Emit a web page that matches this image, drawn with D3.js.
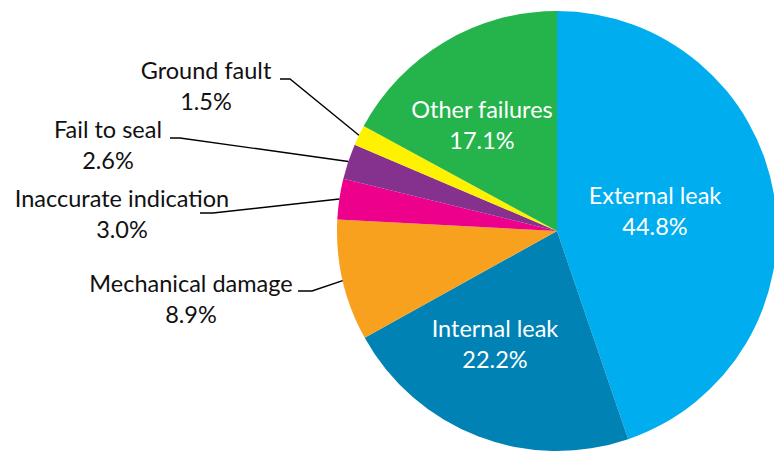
<!DOCTYPE html>
<html>
<head>
<meta charset="utf-8">
<script src="https://cdn.jsdelivr.net/npm/d3@7"></script>
<style>
  body { margin: 0; background: #fff; }
  svg text { font-family: Lato, "Open Sans", sans-serif; font-size: 23.5px; }
</style>
</head>
<body>
<svg width="774" height="453"></svg>
<script>
// data, clockwise from 12 o'clock
var categories = ['External leak', 'Internal leak', 'Mechanical damage', 'Inaccurate indication',
                  'Fail to seal', 'Ground fault', 'Other failures'];
var shares = [44.8, 22.2, 8.9, 3.0, 2.6, 1.5, 17.1];
var shareLabels = ['44.8%', '22.2%', '8.9%', '3.0%', '2.6%', '1.5%', '17.1%'];

var colors = ['#00aeef', '#0082b4', '#f7a11e', '#ec008c', '#85318e', '#fff200', '#25b34b'];

var cx = 557, cy = 231, radius = 220;

// label placement (inside labels white, outside ones with leader lines)
var layout = {
  'External leak':         { inside: true, x: 655, y: 204 },
  'Internal leak':         { inside: true, x: 495, y: 337 },
  'Other failures':        { inside: true, x: 482, y: 118 },
  'Mechanical damage':     { x: 191, y: 292, lead: [[298, 291], [312, 291]] },
  'Inaccurate indication': { x: 122, y: 207, lead: [[200, 213], [213, 213]] },
  'Fail to seal':          { x: 108, y: 138, lead: [[170, 138], [180, 138]] },
  'Ground fault':          { x: 206, y: 79,  lead: [[280, 79], [290, 79]] }
};
var lineGap = 31;

var svg = d3.select('svg');
var g = svg.append('g').attr('transform', 'translate(' + cx + ',' + cy + ')');

var pie = d3.pie().sort(null).value(function(d) { return d.value; });
var arc = d3.arc().innerRadius(0).outerRadius(radius);

var data = categories.map(function(c, i) {
  return { name: c, value: shares[i], label: shareLabels[i], color: colors[i] };
});
var arcs = pie(data);

g.selectAll('path.slice')
  .data(arcs)
  .enter().append('path')
    .attr('class', 'slice')
    .attr('d', arc)
    .attr('fill', function(d) { return d.data.color; });

// leader lines
arcs.forEach(function(d) {
  var l = layout[d.data.name];
  if (l.inside) return;
  var mid = (d.startAngle + d.endAngle) / 2;
  var end = [cx + radius * Math.sin(mid), cy - radius * Math.cos(mid)];
  var pts = l.lead.concat([end]);
  svg.append('path')
    .attr('d', d3.line()(pts))
    .attr('fill', 'none')
    .attr('stroke', '#000')
    .attr('stroke-width', 1.4);
});

// labels
arcs.forEach(function(d) {
  var l = layout[d.data.name];
  var t = svg.append('text')
    .attr('text-anchor', 'middle')
    .attr('fill', l.inside ? '#fff' : '#111');
  t.append('tspan').attr('x', l.x).attr('y', l.y).text(d.data.name);
  t.append('tspan').attr('x', l.x).attr('y', l.y + lineGap).text(d.data.label);
});
</script>
</body>
</html>
